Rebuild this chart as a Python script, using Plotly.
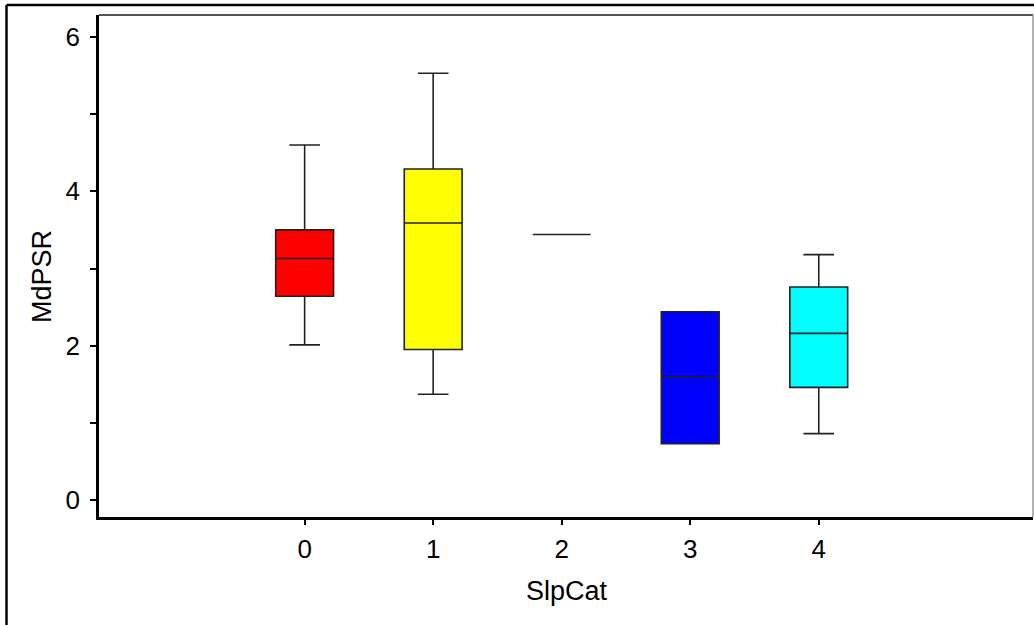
import plotly.graph_objects as go

# Box summaries of MdPSR per slope category
categories = [0, 1, 2, 3, 4]
lower_whisker = [2.01, 1.37, 3.44, 0.73, 0.86]
q1_values = [2.64, 1.95, 3.44, 0.73, 1.46]
medians = [3.13, 3.59, 3.44, 1.59, 2.16]
q3_values = [3.50, 4.29, 3.44, 2.44, 2.76]
upper_whisker = [4.60, 5.53, 3.44, 2.44, 3.18]
box_colors = ["#ff0000", "#ffff00", "#00ff00", "#0000ff", "#00ffff"]

y_tick_values = [0, 1, 2, 3, 4, 5, 6]
y_tick_labels = ["0", "", "2", "", "4", "", "6"]

FONT = "Liberation Sans, Arial, sans-serif"

fig = go.Figure()
for i, cat in enumerate(categories):
    fig.add_trace(go.Box(
        x=[cat],
        q1=[q1_values[i]],
        median=[medians[i]],
        q3=[q3_values[i]],
        lowerfence=[lower_whisker[i]],
        upperfence=[upper_whisker[i]],
        fillcolor=box_colors[i],
        line=dict(color="#222222", width=1.6),
        width=0.45,
        whiskerwidth=0.53,
        boxpoints=False,
        hoverinfo="skip",
        showlegend=False,
    ))

L, R, T, B = 99, 1, 15, 108
W, H = 1034, 625
pw, ph = W - L - R, H - T - B

def px(xp):
    return (xp - L) / pw

def py(yp):
    return 1 - (yp - T) / ph

fig.update_layout(
    width=W, height=H,
    margin=dict(l=L, r=R, t=T, b=B, pad=0),
    paper_bgcolor="white",
    plot_bgcolor="white",
    font=dict(family=FONT, size=26, color="black"),
    xaxis=dict(
        range=[-1.6, 5.667],
        tickvals=categories,
        ticktext=[str(c) for c in categories],
        ticks="outside", ticklen=5, tickwidth=2, tickcolor="black",
        ticklabelstandoff=2,
        showline=True, linecolor="black", linewidth=3,
        showgrid=False, zeroline=False,
        automargin=False,
    ),
    yaxis=dict(
        range=[-0.22, 6.285],
        tickvals=y_tick_values,
        ticktext=y_tick_labels,
        ticks="outside", ticklen=6, tickwidth=2, tickcolor="black",
        showline=True, linecolor="black", linewidth=2.5,
        showgrid=False, zeroline=False,
        ticklabelstandoff=5,
        automargin=False,
    ),
    annotations=[
        dict(text="SlpCat", xref="paper", yref="paper", x=px(567), y=py(591),
             xanchor="center", yanchor="middle", showarrow=False,
             font=dict(size=27)),
        dict(text="MdPSR", xref="paper", yref="paper", x=px(42), y=py(277),
             xanchor="center", yanchor="middle", showarrow=False,
             textangle=-90, font=dict(size=27)),
    ],
    shapes=[
        # plot frame: top and right edges
        dict(type="line", xref="paper", yref="paper", x0=0, x1=1, y0=1, y1=1,
             line=dict(color="#555555", width=2)),
        dict(type="line", xref="paper", yref="paper", x0=1, x1=1, y0=0, y1=1,
             line=dict(color="#999999", width=1.5)),
        # outer page frame
        dict(type="line", xref="paper", yref="paper", x0=px(6.5), x1=px(1040),
             y0=py(5), y1=py(5), line=dict(color="black", width=2.5)),
        dict(type="line", xref="paper", yref="paper", x0=px(6.5), x1=px(6.5),
             y0=py(5), y1=py(640), line=dict(color="black", width=2.5)),
    ],
)

fig.write_html("out.html")
